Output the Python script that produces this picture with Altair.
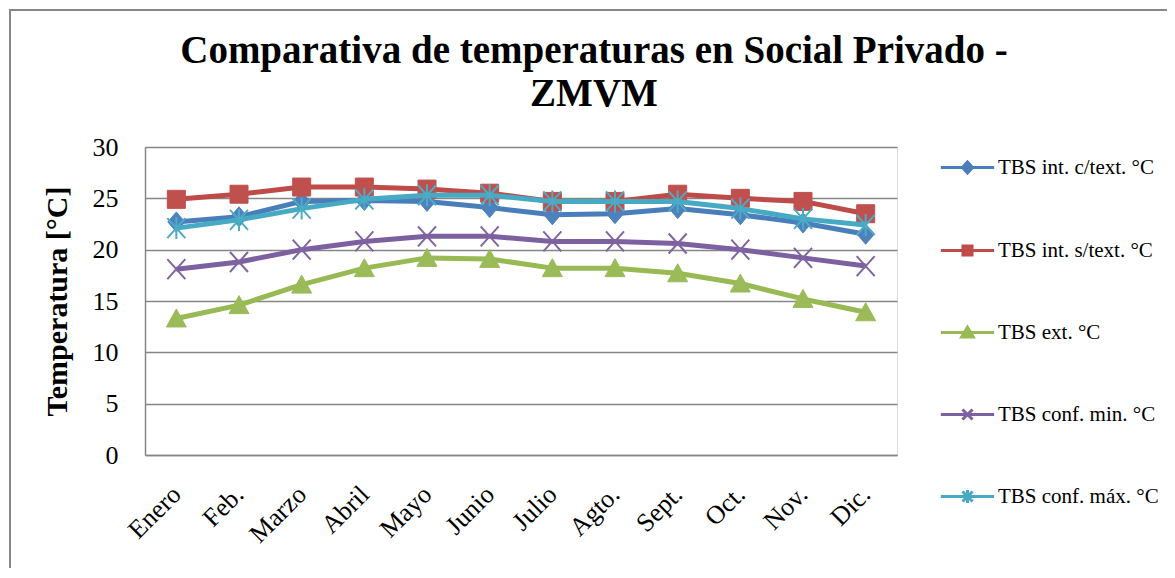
import altair as alt
import pandas as pd

months = ["Enero", "Feb.", "Marzo", "Abril", "Mayo", "Junio",
          "Julio", "Agto.", "Sept.", "Oct.", "Nov.", "Dic."]
series_names = ["TBS int. c/text. °C", "TBS int. s/text. °C", "TBS ext. °C",
                "TBS conf. min. °C", "TBS conf. máx. °C"]

int_c = [22.7, 23.2, 24.7, 24.8, 24.7, 24.1, 23.4, 23.5, 24.0, 23.4, 22.6, 21.5]
int_s = [24.9, 25.4, 26.1, 26.1, 25.9, 25.5, 24.7, 24.7, 25.4, 25.0, 24.7, 23.5]
ext = [13.3, 14.6, 16.6, 18.2, 19.2, 19.1, 18.2, 18.2, 17.7, 16.7, 15.2, 13.9]
conf_min = [18.1, 18.8, 20.0, 20.8, 21.3, 21.3, 20.8, 20.8, 20.6, 20.0, 19.2, 18.4]
conf_max = [22.1, 22.9, 24.0, 24.9, 25.3, 25.3, 24.7, 24.7, 24.7, 24.0, 23.0, 22.4]

line_colors = ["#4A7EBB", "#BE4B48", "#98B954", "#7D60A0", "#46AAC5"]
marker_colors = ["#4F81BD", "#C0504D", "#9BBB59", "#8064A2", "#4BACC6"]

y_ticks = [0, 5, 10, 15, 20, 25, 30]

# marker glyphs (unit square [-1,1])
marker_paths = [
    "M0,-1L0.85,0L0,1L-0.85,0Z",
    "M-0.9,-0.9H0.9V0.9H-0.9Z",
    "M0,-0.95L1,0.85H-1Z",
    "M-0.9,-1L0.9,1M-0.9,1L0.9,-1",
    "M-0.9,-1L0.9,1M-0.9,1L0.9,-1M0,-1.1V1.1",
]
marker_filled = [True, True, True, False, False]
legend_paths = [
    "M-1,0H1M0,-0.21L0.19,0L0,0.21L-0.19,0Z",
    "M-1,0H1M-0.17,-0.17H0.17V0.17H-0.17Z",
    "M-1,0H1M0,-0.2L0.22,0.17H-0.22Z",
    "M-1,0H1M-0.19,-0.19L0.19,0.19M-0.19,0.19L0.19,-0.19",
    "M-1,0H1M-0.19,-0.19L0.19,0.19M-0.19,0.19L0.19,-0.19M0,-0.24V0.24",
]

all_values = [int_c, int_s, ext, conf_min, conf_max]
rows = []
for name, vals in zip(series_names, all_values):
    for m, v in zip(months, vals):
        rows.append({"month": m, "series": name, "value": v})
df = pd.DataFrame(rows)

SERIF = "Liberation Serif"
GRAY = "#868686"

W, H = 752, 308
PAD = {"left": 137, "top": 139, "right": 270, "bottom": 113}

x_enc = alt.X("month:N", scale=alt.Scale(type="point", domain=months, padding=0.5),
              axis=alt.Axis(title=None, labelAngle=315, labelAlign="right",
                            labelBaseline="middle", labelFont=SERIF, labelFontSize=26,
                            labelColor="black", ticks=False, labelPadding=35,
                            domainColor=GRAY, domainWidth=1.5, grid=False))
y_enc = alt.Y("value:Q", scale=alt.Scale(domain=[0, 30], nice=False),
              axis=alt.Axis(title="Temperatura [°C]", values=y_ticks, labelFont=SERIF,
                            labelFontSize=26, labelColor="black", ticks=False,
                            labelPadding=27, domainColor=GRAY, domainWidth=1.5,
                            gridColor=GRAY, gridWidth=1.5, titleFont=SERIF,
                            titleFontSize=30, titleFontWeight="bold", titleColor="black",
                            titlePadding=20))

base = alt.Chart(df)

border = alt.Chart(alt.Data(values=[{"a": 1}])).mark_rect(
    filled=False, stroke=GRAY, strokeWidth=2
).encode(x=alt.value(-135), x2=alt.value(1040), y=alt.value(-137), y2=alt.value(440))

layers = [border]
for name, lc, mc, path, filled in zip(series_names, line_colors, marker_colors,
                                       marker_paths, marker_filled):
    sub = base.transform_filter(alt.datum.series == name)
    layers.append(sub.mark_line(color=lc, strokeWidth=5, strokeJoin="round").encode(x=x_enc, y=y_enc))
    if filled:
        pt = sub.mark_point(shape=path, filled=True, fill=mc, stroke=mc, strokeWidth=1,
                            size=400, opacity=1)
    else:
        pt = sub.mark_point(shape=path, filled=False, stroke=mc, strokeWidth=2,
                            size=400, opacity=1)
    layers.append(pt.encode(x=x_enc, y=y_enc))

leg = alt.Legend(title=None, orient="none", legendX=794, legendY=-8, padding=0,
                 symbolSize=2840, symbolStrokeWidth=3, labelFont=SERIF, labelFontSize=21,
                 labelColor="black", labelOffset=2, rowPadding=42, labelLimit=300)

legend_layer = base.transform_filter("false").mark_point(
    filled=True, opacity=1, strokeWidth=3
).encode(
    color=alt.Color("series:N", scale=alt.Scale(domain=series_names, range=marker_colors), legend=leg),
    stroke=alt.Stroke("series:N", scale=alt.Scale(domain=series_names, range=line_colors), legend=leg),
    shape=alt.Shape("series:N", scale=alt.Scale(domain=series_names, range=legend_paths), legend=leg),
)
layers.append(legend_layer)

chart = alt.layer(*layers).properties(
    width=W, height=H,
    autosize=alt.AutoSizeParams(type="none"),
    padding=PAD,
    title=alt.Title(["Comparativa de temperaturas en Social Privado -", "ZMVM"],
                    font=SERIF, fontSize=39, fontWeight="bold", color="black",
                    anchor="middle", dx=73, lineHeight=43, offset=20,
                    baseline="alphabetic", dy=156),
).configure_view(stroke=None).configure(background="white")

chart.save("out.html", embed_options={"renderer": "svg", "actions": False})
